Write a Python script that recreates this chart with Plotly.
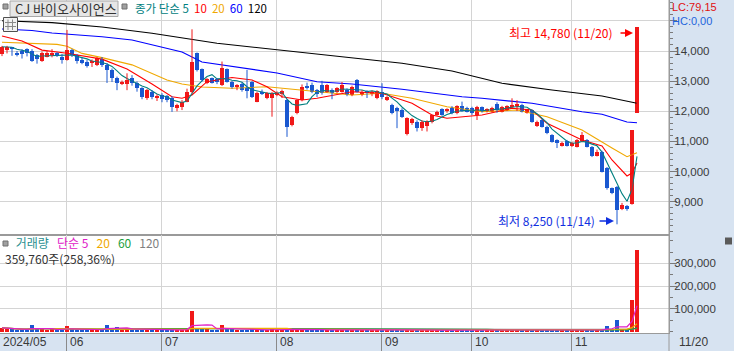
import plotly.graph_objects as go
import pandas as pd

# ---------------- data ----------------
opens = [13900,14040,14120,13940,14010,14060,14010,13870,13680,13810,
         13870,13920,13790,13700,14030,13870,13700,13640,13590,13540,
         13730,13540,13370,13090,12910,12910,13100,12950,12760,12430,
         12650,12460,12540,12500,12430,12100,12130,12320,12650,13920,
         13390,12950,13090,13070,12870,13390,12980,12820,12900,12760,
         12980,12320,12650,12430,12430,12540,12570,12370,11540,11950,
         12370,12840,12870,12700,12870,12650,12700,12650,12650,12720,
         12540,13040,12540,12650,12600,12430,12650,12400,12210,12100,
         12040,11250,11600,11650,11430,11520,11650,11880,12060,12020,
         12100,11930,12170,12120,12100,11880,12130,12020,11990,12240,
         11990,12040,12150,12200,12210,11950,12040,11510,11710,11490,
         11210,11050,10850,11020,10850,10830,11020,11050,10830,10530,
         10660,10110,9440,9500,8750,8860,8930,11950]
highs = [14170,14170,14130,14000,14060,14090,14060,13900,13980,14010,
         14060,13960,13900,14700,14070,13900,13770,13700,13720,13800,
         13800,13600,13420,13150,13020,13260,13200,12990,12800,12740,
         12700,12560,12600,12540,12500,12250,12370,12750,14720,13950,
         13420,13100,13120,13100,13650,13420,13010,12900,12950,13370,
         13000,12650,12720,12640,12640,12660,12720,12400,11850,12400,
         12890,12950,12950,12740,13010,12900,12760,12800,12970,12760,
         12850,13070,12700,12700,12680,12700,12930,12500,12250,12150,
         12100,11800,11780,11700,11700,11700,11900,12020,12100,12100,
         12170,12200,12320,12150,12150,12180,12160,12100,12150,12300,
         12180,12200,12430,12370,12250,12080,12060,11690,11740,11520,
         11240,11070,10990,11050,10980,11080,11310,11080,10850,10730,
         10690,10150,9470,9520,8960,8890,11370,14780]
lows = [13830,13920,13840,13820,13750,13820,13640,13580,13640,13790,
        13790,13800,13580,13680,13800,13580,13560,13450,13470,13500,
        13470,12940,12970,12700,12870,12700,12850,12650,12400,12380,
        12400,12340,12300,12300,11980,12000,12040,12300,12600,13320,
        12990,12900,12920,12900,12840,12950,12750,12700,12650,12430,
        12440,12300,12540,12400,11820,12500,12440,11150,11500,11900,
        12330,12720,12600,12470,12550,12620,12400,12600,12620,12500,
        12500,12620,12500,12440,12500,12400,12400,12340,11900,11440,
        11780,11200,11550,11330,11350,11330,11600,11850,11850,11950,
        11900,11900,11990,11960,11880,11710,11960,11960,11960,11950,
        11960,12010,12110,12010,11960,11920,11620,11480,11460,11240,
        10960,10780,10830,10830,10820,10800,10990,10800,10480,10500,
        9970,9400,9250,8250,8720,8700,8900,11950]
closes = [14140,14140,14090,13870,13900,13940,13680,13720,13920,13940,
          13920,13830,13700,14030,13870,13680,13610,13500,13680,13760,
          13540,13370,13090,12950,12980,13040,12940,12760,12460,12700,
          12460,12500,12400,12380,12130,12210,12320,12650,13650,13370,
          13040,13060,12950,12960,13430,12980,12820,12870,12700,12700,
          12480,12620,12600,12620,12600,12620,12680,11490,11820,12370,
          12820,12760,12650,12570,12600,12870,12600,12760,12870,12540,
          12820,12650,12650,12620,12650,12670,12460,12460,11930,12040,
          11820,11770,11730,11430,11650,11680,11870,11990,11880,12060,
          11930,12180,12020,11990,11930,12150,11990,12060,12120,12040,
          12150,12170,12190,12250,11990,12060,11650,11650,11490,11270,
          10990,10960,10960,10850,10940,11050,11210,10830,10520,10660,
          10000,9440,9280,8720,8890,8750,11370,14780]
volumes = [16000,12000,9000,8000,9000,8000,30000,10000,9000,8000,
           9000,7000,8000,23000,9000,8000,7000,8000,7000,8000,
           9000,30000,10000,22000,8000,9000,8000,7000,8000,7000,
           8000,6000,7000,6000,9000,7000,8000,12000,92000,16000,
           17000,9000,8000,7000,27000,12000,9000,7000,8000,8000,
           9000,8000,6000,7000,9000,6000,7000,14000,9000,10000,
           11000,7000,8000,6000,8000,7000,6000,6000,7000,6000,
           7000,8000,6000,5000,5000,6000,7000,5000,9000,8000,
           7000,10000,6000,6000,6000,6000,7000,6000,6000,5000,
           6000,7000,6000,5000,6000,7000,5000,5000,6000,6000,
           5000,6000,5000,6000,6000,5000,9000,6000,7000,8000,
           7000,6000,5000,6000,5000,6000,7000,6000,9000,6000,
           10000,23000,12000,50000,10000,9000,139250,359760]

# moving averages (day index, value)
ma10_idx = [0,4,8,13,20,25,30,34,36,38,41,46,50,53,56,60,63,70,76,82,86,89,96,102,106,109,116,120,122,124,125,126,127]
ma10_val = [14498,14332,14030,13924,13730,13400,12905,12484,12431,12540,12981,13120,13038,12815,12484,12374,12431,12650,12597,12265,11876,11767,11876,12099,12042,11601,11047,10848,10384,10052,9853,9952,10284]
ma20_idx = [0,6,11,13,16,20,26,33,36,40,46,53,60,70,76,82,89,96,103,109,116,120,122,125,127]
ma20_val = [14289,14249,14220,14160,13920,13780,13540,13038,12905,12806,12762,12815,12706,12540,12600,12431,12152,11986,12042,11820,11379,11000,10782,10493,10626]
ma60_idx = [0,6,10,20,26,30,36,40,46,55,63,70,80,86,92,96,106,116,120,125,127]
ma60_val = [14730,14680,14597,14474,14365,14199,13967,13635,13479,13270,12981,12905,12729,12597,12484,12431,12265,11986,11900,11644,11621]
ma120_idx = [0,10,20,30,43,55,67,76,80,90,100,110,120,127]
ma120_val = [15005,14940,14796,14587,14255,14033,13834,13645,13592,13336,12928,12706,12507,12265]

month_start_idx = [13, 32, 55, 76, 94, 114]
month_labels = ["06", "07", "08", "09", "10", "11"]
first_label = "2024/05"
last_label = "11/20"
price_ticks = [9000, 10000, 11000, 12000, 13000, 14000, 15000]
price_ticktext = ["9,000", "10,000", "11,000", "12,000", "13,000", "14,000", ""]
vol_ticks = [100000, 200000, 300000]
vol_ticktext = ["100,000", "200,000", "300,000"]

hi_text = "최고 14,780 (11/20)"
lo_text = "최저 8,250 (11/14)"
hi_idx, hi_val = 127, 14780
lo_idx, lo_val = 123, 8250

# ---------------- styling ----------------
W, H = 734, 351
PLOT_R = 669
RED = "#f01818"
BLUE = "#1a58d0"
GRID = "#d4d4d4"
AXC = "#9a9a9a"
PANEL = "#d7e3f1"
NUMFONT = "Liberation Sans Narrow, Liberation Sans, Arial, sans-serif"
KFONT = "Noto Sans CJK KR, sans-serif"
TXT = "#3a3a3a"

def px(v):
    return v / W

def py(v):
    return 1 - v / H

n = len(closes)
xi = list(range(n))
up = [i for i in xi if closes[i] >= opens[i]]
dn = [i for i in xi if closes[i] < opens[i]]

fig = go.Figure()

# price moving averages
ma5 = pd.Series(closes).rolling(5, min_periods=1).mean()
for ix, vals, col in [(ma120_idx, ma120_val, "#000000"), (ma60_idx, ma60_val, "#0000ff"),
                      (ma20_idx, ma20_val, "#f0a800"), (ma10_idx, ma10_val, "#ff0000")]:
    fig.add_trace(go.Scatter(x=ix, y=vals, mode="lines", line=dict(color=col, width=1.1),
                             hoverinfo="skip", xaxis="x", yaxis="y"))
fig.add_trace(go.Scatter(x=xi, y=ma5, mode="lines", line=dict(color="#008080", width=1.1),
                         hoverinfo="skip", xaxis="x", yaxis="y"))

# candles: wicks + bodies
for sel, col in [(up, RED), (dn, BLUE)]:
    wx, wy = [], []
    for i in sel:
        wx += [i, i, None]
        wy += [lows[i], highs[i], None]
    fig.add_trace(go.Scatter(x=wx, y=wy, mode="lines", line=dict(color=col, width=1),
                             hoverinfo="skip", xaxis="x", yaxis="y"))
    fig.add_trace(go.Bar(x=sel, y=[max(abs(closes[i] - opens[i]), 30) for i in sel],
                         base=[min(opens[i], closes[i]) for i in sel], width=0.62,
                         marker=dict(color=col, line=dict(width=0)), xaxis="x", yaxis="y"))

# volume bars
fig.add_trace(go.Bar(x=up, y=[volumes[i] for i in up], width=0.62,
                     marker=dict(color=RED, line=dict(width=0)), xaxis="x2", yaxis="y2"))
fig.add_trace(go.Bar(x=dn, y=[volumes[i] for i in dn], width=0.62,
                     marker=dict(color=BLUE, line=dict(width=0)), xaxis="x2", yaxis="y2"))
vs = pd.Series(volumes)
for w, col in [(120, "#8c8c8c"), (60, "#1fa040"), (20, "#f0a800"), (5, "#e020c8")]:
    fig.add_trace(go.Scatter(x=xi, y=vs.rolling(w, min_periods=1).mean(), mode="lines",
                             line=dict(color=col, width=1.2), hoverinfo="skip",
                             xaxis="x2", yaxis="y2"))

grid_x = [m - 0.2 for m in month_start_idx]
xr = [-0.4, 133.4]
xdom = [0, PLOT_R / W]

fig.update_layout(
    width=W, height=H, margin=dict(l=0, r=0, t=0, b=0),
    paper_bgcolor="white", plot_bgcolor="white", showlegend=False,
    barmode="overlay", bargap=0,
    xaxis=dict(domain=xdom, range=xr, anchor="y", tickmode="array", tickvals=grid_x,
               showticklabels=False, ticks="", showgrid=True, gridcolor=GRID, gridwidth=1,
               zeroline=False, showline=True, linecolor=AXC, linewidth=1.5),
    xaxis2=dict(domain=xdom, range=xr, anchor="y2", tickmode="array", tickvals=grid_x,
                showticklabels=False, ticks="outside", ticklen=18, tickcolor="#8a8a8a",
                tickwidth=1, showgrid=True, gridcolor=GRID, gridwidth=1, zeroline=False,
                showline=True, linecolor=AXC, linewidth=1),
    yaxis=dict(domain=[py(234), 1], range=[7928, 15692], anchor="x", side="right",
               tickmode="array", tickvals=price_ticks, ticktext=price_ticktext,
               showgrid=True, gridcolor=GRID, gridwidth=1, zeroline=False,
               ticks="outside", ticklen=7, tickcolor="#7a7a7a", showline=True,
               linecolor=AXC, linewidth=1, ticklabelstandoff=-5,
               minor=dict(dtick=200, tick0=0, ticks="outside", ticklen=3, tickcolor="#7a7a7a", showgrid=False),
               tickfont=dict(family=NUMFONT, size=11.5, color=TXT)),
    yaxis2=dict(domain=[py(333), py(235)], range=[-6600, 425000], anchor="x2", side="right",
                tickmode="array", tickvals=vol_ticks, ticktext=vol_ticktext,
                showgrid=True, gridcolor=GRID, gridwidth=1, zeroline=False,
                ticks="outside", ticklen=7, tickcolor="#7a7a7a", showline=True,
                linecolor=AXC, linewidth=1, ticklabelstandoff=-5,
                minor=dict(dtick=50000, tick0=0, ticks="outside", ticklen=3, tickcolor="#7a7a7a", showgrid=False),
                tickfont=dict(family=NUMFONT, size=11.5, color=TXT)),
)

shapes = []
# right axis panel and bottom date band
shapes.append(dict(type="rect", xref="paper", yref="paper", x0=px(PLOT_R), x1=1, y0=0, y1=1,
                   fillcolor=PANEL, line=dict(width=0), layer="below"))
shapes.append(dict(type="rect", xref="paper", yref="paper", x0=0, x1=1, y0=0, y1=py(333),
                   fillcolor=PANEL, line=dict(width=0), layer="below"))
shapes.append(dict(type="line", xref="paper", yref="paper", x0=px(PLOT_R), x1=px(PLOT_R), y0=0, y1=1,
                   line=dict(color=AXC, width=1)))
# title box and small squares
shapes.append(dict(type="rect", xref="paper", yref="paper", x0=px(10), x1=px(118), y0=py(16.5), y1=py(1),
                   fillcolor="#e6e6e6", line=dict(color="#a8a8a8", width=1)))
for sx in (3, 122):
    shapes.append(dict(type="rect", xref="paper", yref="paper", x0=px(sx), x1=px(sx + 5), y0=py(9), y1=py(4),
                       fillcolor="#a0a0a0", line=dict(color="#707070", width=1)))
shapes.append(dict(type="rect", xref="paper", yref="paper", x0=px(3), x1=px(8), y0=py(246), y1=py(241),
                   fillcolor="#a0a0a0", line=dict(color="#707070", width=1)))
# grid icon
shapes.append(dict(type="rect", xref="paper", yref="paper", x0=px(3.5), x1=px(17.5), y0=py(31.5), y1=py(17.5),
                   fillcolor="#f2f2f2", line=dict(color="#505050", width=1)))
for gx in (8, 12.5):
    shapes.append(dict(type="line", xref="paper", yref="paper", x0=px(gx), x1=px(gx), y0=py(30), y1=py(19.5),
                       line=dict(color="#8a8a8a", width=1)))
for gy in (22.5, 26.5):
    shapes.append(dict(type="line", xref="paper", yref="paper", x0=px(5), x1=px(16), y0=py(gy), y1=py(gy),
                       line=dict(color="#8a8a8a", width=1)))
# small close icon on the volume pane
shapes.append(dict(type="rect", xref="paper", yref="paper", x0=px(725), x1=px(732), y0=py(244.5), y1=py(237.5),
                   fillcolor="#5a5a5a", line=dict(width=0)))
fig.update_layout(shapes=shapes)

ann = []
def text(x, y, s, color=TXT, size=12, family=KFONT, anchor="left"):
    ann.append(dict(xref="paper", yref="paper", x=px(x), y=py(y), text=s, showarrow=False,
                    xanchor=anchor, yanchor="middle", align="left",
                    font=dict(family=family, size=size, color=color)))

text(12.5, 8.5, "CJ 바이오사이언스", color="#333333", size=13)
text(133, 8.5, '<span style="color:#008080">종가 단순 5</span>  '
                '<span style="color:#ff0000">10</span>  '
                '<span style="color:#f0a800">20</span>  '
                '<span style="color:#0000ff">60</span>  '
                '<span style="color:#000000">120</span>', size=11.5)
text(669.5, 14, '<span style="color:#e01010">LC:79,15</span><br>'
                '<span style="color:#1e64dc">HC:0,00</span>', size=11, family=NUMFONT)
text(3, 250, '    <span style="color:#2a9090">거래량</span>   '
             '<span style="color:#e020c8">단순 5</span>   '
             '<span style="color:#f0a800">20</span>   '
             '<span style="color:#1fa040">60</span>   '
             '<span style="color:#808080">120</span><br>'
             '<span style="color:#333333">359,760주(258,36%)</span>', size=12)
text(615, 32.5, hi_text, color="#ff0000", size=12, anchor="right")
text(597, 220.5, lo_text, color="#1030e0", size=12, anchor="right")
text(1, 342, first_label, size=12, family=NUMFONT)
text(677, 342, last_label, size=12, family=NUMFONT)
for gx, lab in zip(grid_x, month_labels):
    ann.append(dict(xref="x2", yref="paper", x=gx + 0.35, y=py(342), text=lab, showarrow=False,
                    xanchor="left", yanchor="middle", font=dict(family=NUMFONT, size=12, color=TXT)))
# arrows for high / low marks
ann.append(dict(xref="x", yref="paper", x=hi_idx - 0.8, y=py(33), text="", showarrow=True,
                ax=-14, ay=0, arrowhead=2, arrowsize=1, arrowwidth=1.6, arrowcolor="#ff0000"))
ann.append(dict(xref="x", yref="paper", x=lo_idx - 0.6, y=py(221), text="", showarrow=True,
                ax=-16, ay=0, arrowhead=2, arrowsize=1, arrowwidth=1.6, arrowcolor="#1030e0"))
fig.update_layout(annotations=ann)

fig.write_html("out.html")
